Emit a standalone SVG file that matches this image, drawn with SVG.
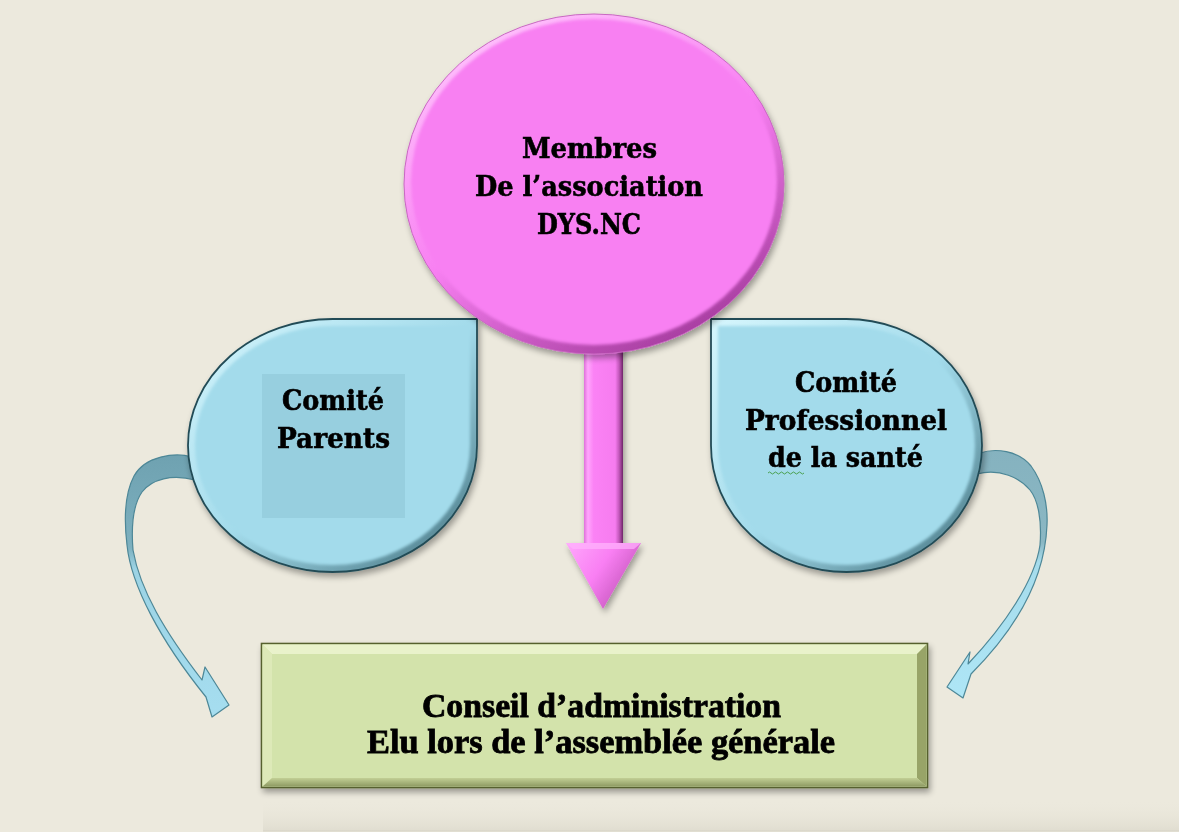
<svg xmlns="http://www.w3.org/2000/svg" width="1179" height="832" viewBox="0 0 1179 832">
<style>
.t{font-family:"DejaVu Serif","Liberation Serif",serif;font-weight:bold;font-size:28px;fill:#000;stroke:#000;stroke-width:0.6;text-anchor:middle}
.b{font-family:"Liberation Serif","Times New Roman",serif;font-weight:bold;font-size:34px;fill:#000;stroke:#000;stroke-width:0.8;text-anchor:middle}
.tdEdge{stroke:#234c57;stroke-width:1.8}
.tdFace{fill:#a3dbeb}
.curv{stroke:#4d8797;stroke-width:1.2;stroke-linejoin:round}
</style>
<defs>
<filter id="sh" x="-10%" y="-10%" width="125%" height="130%">
<feGaussianBlur in="SourceAlpha" stdDeviation="3"/>
<feOffset dx="2" dy="4" result="o"/>
<feComponentTransfer><feFuncA type="linear" slope="0.35"/></feComponentTransfer>
<feMerge><feMergeNode/><feMergeNode in="SourceGraphic"/></feMerge>
</filter>
<filter id="soft" x="-5%" y="-5%" width="110%" height="110%"><feGaussianBlur stdDeviation="1.8"/></filter>
<linearGradient id="tdBevel" x1="0" y1="0" x2="1" y2="1">
<stop offset="0" stop-color="#d6f6fd"/><stop offset="0.5" stop-color="#a3dbeb"/><stop offset="1" stop-color="#3f6e7b"/>
</linearGradient>
<linearGradient id="elBevel" x1="0.2" y1="0" x2="0.8" y2="1">
<stop offset="0" stop-color="#ffc6fd"/><stop offset="0.5" stop-color="#f880f2"/><stop offset="1" stop-color="#9d3596"/>
</linearGradient>
<linearGradient id="shaftG" x1="0" y1="0" x2="1" y2="0">
<stop offset="0" stop-color="#e070da"/><stop offset="0.1" stop-color="#ffa6fc"/><stop offset="0.25" stop-color="#fb82f5"/><stop offset="0.8" stop-color="#f67cef"/><stop offset="0.9" stop-color="#c257ba"/><stop offset="1" stop-color="#6e2468"/>
</linearGradient>
<linearGradient id="headG" x1="0" y1="0" x2="1" y2="0.6">
<stop offset="0" stop-color="#ffa8fc"/><stop offset="0.5" stop-color="#f97ff3"/><stop offset="0.82" stop-color="#d462cc"/><stop offset="1" stop-color="#7a2b74"/>
</linearGradient>
<linearGradient id="lArr" gradientUnits="userSpaceOnUse" x1="0" y1="450" x2="0" y2="720">
<stop offset="0" stop-color="#6ea1b0"/><stop offset="0.36" stop-color="#7db0bf"/><stop offset="0.44" stop-color="#9cd3e4"/><stop offset="1" stop-color="#a6def0"/>
</linearGradient>
<linearGradient id="rArr" gradientUnits="userSpaceOnUse" x1="0" y1="445" x2="0" y2="700">
<stop offset="0" stop-color="#85b2bf"/><stop offset="0.38" stop-color="#8ab7c3"/><stop offset="0.46" stop-color="#a6dcec"/><stop offset="1" stop-color="#aee6f6"/>
</linearGradient>
<linearGradient id="boxBot" x1="0" y1="0" x2="0" y2="1">
<stop offset="0" stop-color="#c2cf95"/><stop offset="1" stop-color="#8e9a62"/>
</linearGradient>
<linearGradient id="floor" x1="0" y1="0" x2="0" y2="1">
<stop offset="0" stop-color="#ebe8dc" stop-opacity="0"/><stop offset="1" stop-color="#e0ddd0"/>
</linearGradient>
</defs>

<rect x="0" y="0" width="1179" height="832" fill="#ece9dd"/>
<rect x="263" y="800" width="916" height="31" fill="url(#floor)"/>
<line x1="263" y1="831" x2="1179" y2="831" stroke="#d6d3c6" stroke-width="1"/>

<g id="connectors">
<path class="curv" fill="url(#lArr)" d="M192,457 C175,452 145,456 134,476 C125,493 124,520 127,545 C131,585 160,640 206,697 L212,717 L229,705 L205,667 L202,680 C165,632 140,590 133,550 C131,525 133,505 142,492 C152,479 172,474 195,480 Z"/>
<path class="curv" fill="url(#rArr)" d="M980,453 C995,448 1018,450 1031,466 C1043,482 1048,505 1047,525 C1045,575 1020,625 971,674 L963,698 L947,687 L970,652 L968,664 C1005,625 1035,580 1040,545 C1042,520 1038,500 1030,490 C1020,478 1000,468 977,474 Z"/>
<g id="downArrow" filter="url(#sh)">
<rect x="584" y="340" width="39" height="205" fill="url(#shaftG)"/>
<polygon points="566,543 641,543 603,609" fill="url(#headG)"/>
<polygon points="566,543 641,543 634,549 573,549" fill="#ffb2fc" opacity="0.7"/>
</g>
</g>

<g id="comite-parents" filter="url(#sh)">
<path class="tdEdge" fill="url(#tdBevel)" d="M332.5,319 L477,319 L477,445.5 A144.5,126.5 0 0 1 332.5,572 A144.5,126.5 0 0 1 188,445.5 A144.5,126.5 0 0 1 332.5,319 Z"/>
<path class="tdFace" filter="url(#soft)" d="M332.5,326 L470,326 L470,445.5 A137.5,119.5 0 0 1 332.5,565 A137.5,119.5 0 0 1 195,445.5 A137.5,119.5 0 0 1 332.5,326 Z"/>
<rect x="262" y="374" width="143" height="144" fill="#97cfdf"/>
<text class="t" x="333" y="410" textLength="102" lengthAdjust="spacingAndGlyphs">Comité</text>
<text class="t" x="333.5" y="448" textLength="113" lengthAdjust="spacingAndGlyphs">Parents</text>
</g>

<g id="comite-pro" filter="url(#sh)">
<path class="tdEdge" fill="url(#tdBevel)" d="M846.5,319 L711,319 L711,445.5 A135.5,126.5 0 0 0 846.5,572 A135.5,126.5 0 0 0 982,445.5 A135.5,126.5 0 0 0 846.5,319 Z"/>
<path class="tdFace" filter="url(#soft)" d="M846.5,326 L718,326 L718,445.5 A128.5,119.5 0 0 0 846.5,565 A128.5,119.5 0 0 0 975,445.5 A128.5,119.5 0 0 0 846.5,326 Z"/>
<text class="t" x="846" y="392" textLength="102" lengthAdjust="spacingAndGlyphs">Comité</text>
<text class="t" x="846" y="430" textLength="202" lengthAdjust="spacingAndGlyphs">Professionnel</text>
<text class="t" x="845.5" y="467" textLength="155" lengthAdjust="spacingAndGlyphs">de la santé</text>
<path d="M768,473 q1.5,-2 3,0 t3,0 t3,0 t3,0 t3,0 t3,0 t3,0 t3,0 t3,0 t3,0 t3,0 t3,0" fill="none" stroke="#3f9a3f" stroke-width="0.9"/>
</g>

<g id="membres" filter="url(#sh)">
<ellipse cx="594" cy="184" rx="190" ry="170" fill="url(#elBevel)" stroke="#c868c1" stroke-width="1"/>
<ellipse cx="594" cy="182" rx="183" ry="163" fill="#f880f2" filter="url(#soft)"/>
<text class="t" x="589.5" y="158" textLength="135" lengthAdjust="spacingAndGlyphs">Membres</text>
<text class="t" x="589" y="196" textLength="228" lengthAdjust="spacingAndGlyphs">De l’association</text>
<text class="t" x="589" y="234" textLength="104" lengthAdjust="spacingAndGlyphs">DYS.NC</text>
</g>

<g id="conseil" filter="url(#sh)">
<rect x="261.5" y="643.5" width="666" height="144" fill="#d3e3ab" stroke="#56612f" stroke-width="1.6"/>
<polygon points="262.5,644.5 926.5,644.5 917,654 272,654" fill="#e9f2cb"/>
<polygon points="262.5,644.5 272,654 272,778 262.5,786.5" fill="#dde9b8"/>
<polygon points="926.5,644.5 926.5,786.5 917,778 917,654" fill="#98a468"/>
<polygon points="262.5,786.5 926.5,786.5 917,778 272,778" fill="url(#boxBot)"/>
<text class="b" x="601.5" y="717" textLength="359" lengthAdjust="spacingAndGlyphs">Conseil d’administration</text>
<text class="b" x="601" y="753" textLength="468" lengthAdjust="spacingAndGlyphs">Elu lors de l’assemblée générale</text>
</g>
</svg>
